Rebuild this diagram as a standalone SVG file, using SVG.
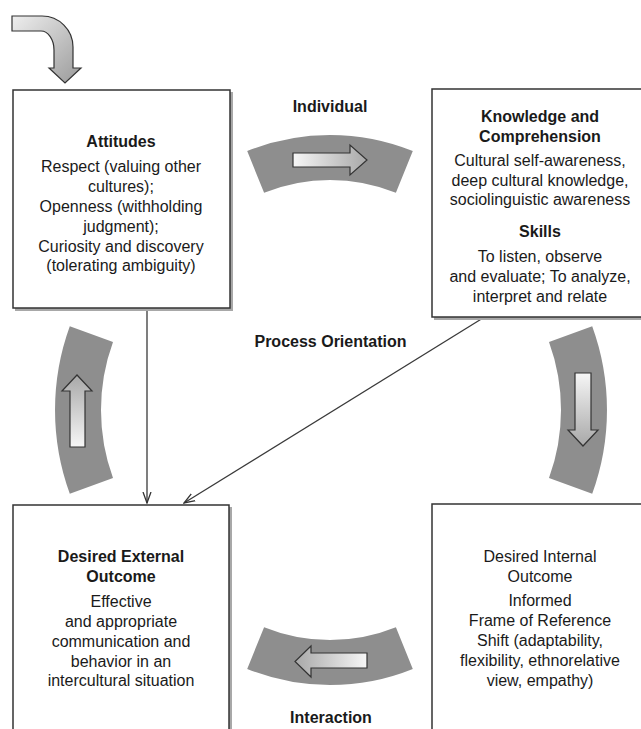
<svg xmlns="http://www.w3.org/2000/svg" width="641" height="729" viewBox="0 0 641 729">
<style>
.box{fill:#ffffff;stroke:#333333;stroke-width:1.5}
.shadow{fill:#a8a8a8}
.band{fill:#8e8e8e}
.blk{stroke:#333333;stroke-width:1.2;stroke-linejoin:miter}
.t{font-family:"Liberation Sans",Arial,sans-serif;font-size:16px;fill:#1a1a1a;text-anchor:middle}
.b{font-weight:bold}
.conn{stroke:#3a3a3a;stroke-width:1.3;fill:none}
</style>
<defs>
<linearGradient id="gR" x1="0" y1="0" x2="1" y2="0"><stop offset="0" stop-color="#f6f6f6"/><stop offset="1" stop-color="#a8a8a8"/></linearGradient>
<linearGradient id="gL" x1="1" y1="0" x2="0" y2="0"><stop offset="0" stop-color="#f6f6f6"/><stop offset="1" stop-color="#a8a8a8"/></linearGradient>
<linearGradient id="gU" x1="0" y1="1" x2="0" y2="0"><stop offset="0" stop-color="#f6f6f6"/><stop offset="1" stop-color="#a8a8a8"/></linearGradient>
<linearGradient id="gD" x1="0" y1="0" x2="0" y2="1"><stop offset="0" stop-color="#f6f6f6"/><stop offset="1" stop-color="#a8a8a8"/></linearGradient>
<linearGradient id="gC" x1="0" y1="0" x2="1" y2="1"><stop offset="0" stop-color="#eeeeee"/><stop offset="1" stop-color="#9a9a9a"/></linearGradient>
<marker id="ah" viewBox="0 0 12 10" refX="11" refY="5" markerWidth="12" markerHeight="10" markerUnits="userSpaceOnUse" orient="auto"><path d="M0,1 L11,5 L0,9" fill="none" stroke="#333333" stroke-width="1.3"/></marker>
</defs>
<rect width="641" height="729" fill="#ffffff"/>

<g id="start-arrow">
<path class="blk" fill="url(#gC)" d="M12,16 L42,16 A31,31 0 0 1 73,47 L73,68 L81,68 L65,83 L49,68 L54,68 L54,50 A13,19 0 0 0 41,31 L12,31 Z"/>
</g>

<g id="cycle-individual">
<path class="band" d="M247.2,151.1 A221,221 0 0 1 412.8,151.1 L395.9,192.8 A176,176 0 0 0 264.1,192.8 Z"/>
<path class="blk" fill="url(#gR)" d="M293,153 L350,153 L350,145 L367,160 L350,175 L350,167 L293,167 Z"/>
<text class="t b" x="330" y="112">Individual</text>
</g>

<g id="cycle-right">
<path class="band" d="M592.2,326.2 A245,245 0 0 1 592.2,493.8 L549,478.1 A199,199 0 0 0 549,341.9 Z"/>
<path class="blk" fill="url(#gD)" d="M575,373 L575,430 L568,430 L583,446 L598,430 L591,430 L591,373 Z"/>
</g>

<g id="cycle-interaction">
<path class="band" d="M247.2,668.9 A221,221 0 0 0 412.8,668.9 L395.9,627.2 A176,176 0 0 1 264.1,627.2 Z"/>
<path class="blk" fill="url(#gL)" d="M367,653 L311,653 L311,646 L295,661.5 L311,677 L311,668 L367,668 Z"/>
<text class="t b" x="331" y="723">Interaction</text>
</g>

<g id="cycle-left">
<path class="band" d="M69.8,326.2 A245,245 0 0 0 69.8,493.8 L113,478.1 A199,199 0 0 1 113,341.9 Z"/>
<path class="blk" fill="url(#gU)" d="M70,447 L70,391 L62,391 L77,375 L92,391 L85,391 L85,447 Z"/>
</g>

<g id="process-label">
<text class="t b" x="330.5" y="347">Process Orientation</text>
</g>

<g id="connectors">
<line class="conn" x1="147" y1="310" x2="147" y2="503" marker-end="url(#ah)"/>
<line class="conn" x1="483" y1="318" x2="184" y2="503" marker-end="url(#ah)"/>
</g>

<g id="attitudes">
<rect class="shadow" x="15" y="92" width="218" height="219"/>
<rect class="box" x="13" y="90" width="217" height="218"/>
<text class="t b" x="121" y="147">Attitudes</text>
<text class="t" x="121" y="172">Respect (valuing other</text>
<text class="t" x="121" y="192">cultures);</text>
<text class="t" x="121" y="212">Openness (withholding</text>
<text class="t" x="121" y="232">judgment);</text>
<text class="t" x="121" y="252">Curiosity and discovery</text>
<text class="t" x="121" y="271">(tolerating ambiguity)</text>
</g>

<g id="knowledge">
<rect class="shadow" x="434" y="91" width="220" height="229"/>
<rect class="box" x="432" y="89" width="220" height="228"/>
<text class="t b" x="540" y="122">Knowledge and</text>
<text class="t b" x="540" y="142">Comprehension</text>
<text class="t" x="540" y="166">Cultural self-awareness,</text>
<text class="t" x="540" y="186">deep cultural knowledge,</text>
<text class="t" x="540" y="205">sociolinguistic awareness</text>
<text class="t b" x="540" y="237">Skills</text>
<text class="t" x="540" y="262">To listen, observe</text>
<text class="t" x="540" y="282">and evaluate; To analyze,</text>
<text class="t" x="540" y="302">interpret and relate</text>
</g>

<g id="external-outcome">
<rect class="shadow" x="15" y="507" width="217" height="240"/>
<rect class="box" x="13" y="505" width="216" height="240"/>
<text class="t b" x="121" y="562">Desired External</text>
<text class="t b" x="121" y="582">Outcome</text>
<text class="t" x="121" y="607">Effective</text>
<text class="t" x="121" y="627">and appropriate</text>
<text class="t" x="121" y="647">communication and</text>
<text class="t" x="121" y="667">behavior in an</text>
<text class="t" x="121" y="686">intercultural situation</text>
</g>

<g id="internal-outcome">
<rect class="box" x="432" y="504" width="220" height="240"/>
<text class="t" x="540" y="562">Desired Internal</text>
<text class="t" x="540" y="582">Outcome</text>
<text class="t" x="540" y="606">Informed</text>
<text class="t" x="540" y="626">Frame of Reference</text>
<text class="t" x="540" y="646">Shift (adaptability,</text>
<text class="t" x="540" y="666">flexibility, ethnorelative</text>
<text class="t" x="540" y="686">view, empathy)</text>
</g>
</svg>
